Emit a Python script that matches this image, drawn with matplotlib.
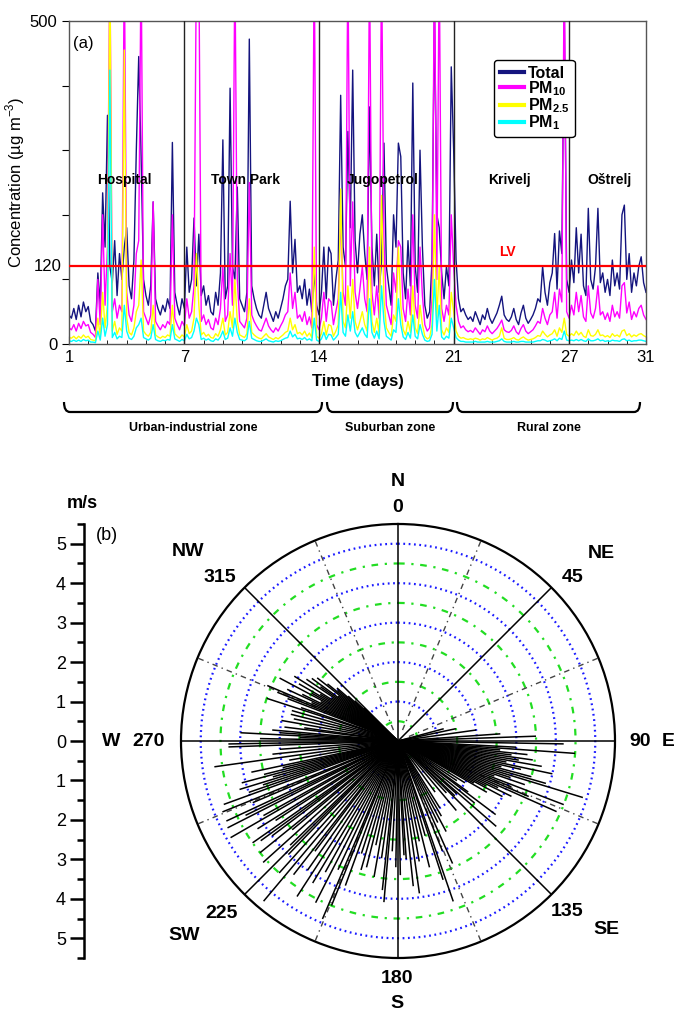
import numpy as np
import matplotlib
matplotlib.use('Agg')
import matplotlib.pyplot as plt
from matplotlib.path import Path
from matplotlib.patches import PathPatch

plt.rcParams['font.family'] = ['Liberation Sans', 'DejaVu Sans']
plt.rcParams['mathtext.fontset'] = 'custom'
plt.rcParams['mathtext.rm'] = 'Liberation Sans'
plt.rcParams['mathtext.bf'] = 'Liberation Sans:bold'

# ------------------------------------------------------------------ data
samples_per_day = 8   # concentration samples every 3 h, day 1 .. day 31

total = [
    45, 40, 55, 38, 60, 42, 65, 50,
    58, 35, 30, 20, 110, 60, 234, 150,
    354, 120, 95, 160, 75, 140, 100, 150,
    180, 90, 70, 130, 300, 445, 290, 100,
    75, 60, 90, 220, 70, 55, 45, 60,
    50, 70, 55, 312, 80, 60, 45, 70,
    55, 150, 80, 100, 195, 90, 170, 75,
    90, 60, 75, 50, 45, 80, 60, 110,
    316, 70, 90, 396, 120, 100, 243, 70,
    60, 50, 80, 472, 90, 70, 55, 45,
    40, 60, 80, 55, 45, 35, 50, 40,
    55, 70, 90, 100, 221, 110, 162, 80,
    90, 70, 100, 60, 85, 50, 110, 60,
    45, 80, 150, 70, 150, 140, 60, 100,
    130, 385, 150, 120, 329, 180, 424, 160,
    110, 170, 200, 140, 100, 367, 150, 90,
    170, 80, 130, 311, 120, 90, 60, 200,
    150, 311, 290, 110, 70, 160, 90, 404,
    120, 80, 300, 150, 60, 40, 50, 130,
    520, 200, 180, 110, 70, 120, 90, 429,
    300, 130, 70, 50, 55, 45, 38, 42,
    35, 50, 40, 30, 45, 38, 55, 40,
    32, 40, 48, 60, 74, 45, 38, 35,
    42, 55, 38, 30, 48, 60, 40, 32,
    38, 45, 55, 70, 65, 120, 80, 60,
    95, 110, 171, 85, 175, 140, 520, 100,
    80, 130, 95, 180, 110, 170, 90, 75,
    210, 100, 85, 120, 210, 95, 110, 80,
    100, 75, 130, 90, 110, 85, 200, 215,
    100, 140, 80, 110, 90, 120, 135, 95,
    80]

pm10 = [
    25, 22, 30, 20, 32, 24, 35, 28,
    30, 18, 15, 10, 100, 30, 200, 60,
    150, 600, 50, 70, 40, 60, 50, 600,
    80, 45, 35, 60, 140, 160, 600, 50,
    40, 30, 45, 220, 35, 28, 22, 30,
    25, 35, 30, 200, 40, 30, 22, 35,
    28, 70, 40, 50, 90, 600, 600, 35,
    45, 30, 38, 25, 22, 40, 30, 55,
    120, 35, 45, 140, 60, 600, 100, 35,
    30, 25, 40, 250, 45, 35, 28, 22,
    20, 30, 40, 28, 22, 18, 25, 20,
    28, 35, 45, 50, 110, 55, 80, 40,
    45, 35, 50, 30, 42, 25, 600, 30,
    22, 40, 80, 35, 70, 65, 30, 50,
    70, 200, 80, 60, 600, 90, 220, 80,
    55, 85, 120, 70, 50, 600, 80, 45,
    90, 40, 600, 160, 60, 45, 30, 110,
    80, 160, 150, 55, 35, 85, 45, 200,
    60, 40, 150, 75, 30, 20, 25, 70,
    600, 100, 600, 55, 35, 60, 45, 200,
    120, 60, 35, 25, 28, 22, 19, 21,
    18, 25, 20, 15, 22, 19, 28, 20,
    16, 20, 24, 30, 37, 22, 19, 18,
    21, 28, 19, 15, 24, 30, 20, 16,
    19, 22, 28, 35, 32, 55, 40, 30,
    45, 50, 80, 40, 85, 65, 600, 50,
    40, 60, 45, 80, 50, 75, 42, 35,
    90, 48, 40, 55, 90, 45, 50, 38,
    48, 35, 60, 42, 50, 40, 90, 95,
    48, 65, 38, 50, 42, 55, 60, 45,
    38]

pm25 = [
    10, 9, 12, 8, 12, 9, 14, 10,
    12, 7, 6, 5, 40, 12, 80, 25,
    60, 600, 20, 35, 15, 25, 20, 455,
    40, 18, 14, 25, 50, 60, 130, 20,
    15, 12, 18, 60, 14, 11, 9, 12,
    10, 14, 12, 60, 16, 12, 9, 14,
    11, 30, 16, 20, 40, 140, 60, 14,
    18, 12, 15, 10, 9, 16, 12, 22,
    40, 14, 18, 50, 25, 100, 35, 14,
    12, 10, 16, 70, 18, 14, 11, 9,
    8, 12, 16, 11, 9, 7, 10, 8,
    11, 14, 18, 20, 40, 22, 30, 16,
    18, 14, 20, 12, 17, 10, 150, 12,
    9, 16, 35, 14, 30, 28, 12, 20,
    30, 240, 35, 25, 90, 40, 100, 35,
    22, 35, 50, 30, 20, 150, 35, 18,
    40, 16, 230, 70, 25, 18, 12, 45,
    35, 150, 60, 22, 14, 35, 18, 90,
    25, 16, 60, 30, 12, 8, 10, 30,
    200, 40, 120, 22, 14, 25, 18, 80,
    50, 20, 12, 9, 10, 8, 7, 8,
    7, 9, 8, 6, 8, 7, 10, 8,
    6, 8, 9, 12, 25, 9, 7, 7,
    8, 10, 7, 6, 9, 11, 8, 6,
    7, 8, 10, 13, 12, 20, 15, 11,
    14, 16, 22, 12, 25, 18, 40, 15,
    12, 16, 13, 20, 14, 18, 12, 10,
    22, 13, 12, 15, 22, 13, 14, 11,
    13, 10, 16, 12, 14, 11, 20, 22,
    13, 16, 11, 14, 12, 15, 16, 13,
    11]

pm1 = [
    5, 4, 6, 4, 6, 4, 7, 5,
    6, 3, 3, 2, 20, 6, 40, 12,
    30, 424, 10, 18, 8, 12, 10, 60,
    20, 9, 7, 12, 25, 30, 40, 10,
    8, 6, 9, 30, 7, 5, 4, 6,
    5, 7, 6, 30, 8, 6, 4, 7,
    5, 15, 8, 10, 20, 40, 30, 7,
    9, 6, 8, 5, 4, 8, 6, 11,
    20, 7, 9, 25, 12, 40, 18, 7,
    6, 5, 8, 35, 9, 7, 5, 4,
    4, 6, 8, 5, 4, 3, 5, 4,
    5, 7, 9, 10, 20, 11, 15, 8,
    9, 7, 10, 6, 8, 5, 40, 6,
    4, 8, 18, 7, 15, 14, 6, 10,
    15, 80, 18, 12, 45, 20, 50, 18,
    11, 18, 25, 15, 10, 70, 18, 9,
    20, 8, 90, 35, 12, 9, 6, 22,
    18, 70, 30, 11, 7, 18, 9, 45,
    12, 8, 30, 15, 6, 4, 5, 15,
    100, 20, 60, 11, 7, 12, 9, 40,
    25, 10, 6, 4, 4, 3, 3, 3,
    3, 4, 3, 3, 3, 3, 4, 3,
    3, 3, 4, 5, 8, 4, 3, 3,
    3, 4, 3, 3, 4, 4, 3, 3,
    3, 3, 4, 5, 5, 7, 6, 4,
    5, 6, 8, 5, 9, 7, 20, 6,
    5, 6, 5, 7, 5, 7, 5, 4,
    8, 5, 5, 6, 8, 5, 6, 4,
    5, 4, 6, 5, 5, 4, 7, 8,
    5, 6, 4, 5, 5, 6, 6, 5,
    4]

series_names = ['Total', 'PM$_\\mathbf{10}$', 'PM$_\\mathbf{2.5}$', 'PM$_\\mathbf{1}$']
series_colors = ['#14147e', '#ff00ff', '#ffff00', '#00ffff']

day_ticks = [1, 7, 14, 21, 27, 31]
site_change_days = [7, 14, 21, 27]
site_names = ['Hospital', 'Town Park', 'Jugopetrol', 'Krivelj', 'Oštrelj']
site_text_days = [3.9, 10.2, 17.3, 23.9, 29.1]
limit_value = 120
zone_names = ['Urban-industrial zone', 'Suburban zone', 'Rural zone']

# wind: direction (deg, clockwise from N) and speed (m/s) of each record
wind_dir = [
    286, 288, 289, 291, 292, 293, 294, 295, 296, 297, 298, 299, 300, 301,
    302, 303, 304, 305, 306, 307, 308, 309, 310, 311, 312, 313, 314,
    264, 266, 268, 269, 271, 272, 273, 274, 275, 277, 278, 280, 282, 284,
    250, 251, 252, 253, 254, 255, 256, 257, 258, 260, 262,
    220, 222, 224, 226, 228, 230, 231, 233, 234, 235, 237, 238, 240, 241,
    243, 244, 245, 247, 248,
    196, 198, 200, 202, 203, 205, 207, 209, 211, 213, 215, 217, 218,
    166, 168, 170, 172, 174, 176, 177, 179, 181, 183, 185, 186, 188, 190,
    192, 194,
    148, 150, 152, 154, 156, 158, 161, 162, 164,
    126, 127, 129, 131, 132, 134, 137, 140, 144,
    93, 94, 95, 96, 97, 98, 99, 100, 101, 102, 103, 104, 105, 106, 107,
    108, 109, 110, 111, 112, 113, 114, 115, 116, 117, 118, 119, 120, 122, 124,
    75, 78, 82, 86, 88, 91]
wind_speed = [
    2.8, 3.5, 2.6, 3.0, 3.3, 3.6, 2.4, 3.1, 2.7, 2.2, 3.4, 2.5, 2.9, 2.3,
    3.1, 2.0, 2.8, 2.4, 2.7, 1.9, 2.6, 2.3, 2.0, 2.05, 1.7, 1.5, 1.2,
    3.2, 3.0, 4.3, 4.3, 3.5, 2.5, 4.0, 3.0, 3.2, 2.9, 2.4, 3.0, 2.7, 2.8,
    4.7, 4.0, 3.6, 4.2, 3.3, 4.1, 3.5, 3.0, 3.8, 2.8, 4.7,
    5.3, 4.5, 4.0, 3.8, 4.6, 3.5, 4.5, 4.0, 4.3, 4.5, 3.7, 4.2, 4.9, 3.9,
    4.85, 4.3, 4.8, 4.0, 4.8,
    3.4, 3.0, 3.9, 4.5, 4.9, 3.6, 4.6, 3.8, 4.2, 4.7, 4.0, 3.5, 4.3,
    3.3, 2.6, 3.1, 3.9, 3.7, 3.0, 2.9, 3.4, 3.2, 2.8, 4.1, 3.8, 3.0, 3.5,
    2.7, 3.3,
    2.0, 2.2, 2.6, 2.3, 3.4, 3.0, 4.3, 3.7, 2.5,
    2.2, 3.1, 2.5, 3.3, 2.0, 2.0, 1.8, 2.3, 1.6,
    3.0, 4.5, 2.6, 3.3, 2.9, 3.45, 3.1, 3.7, 2.8, 4.0, 3.2, 2.7, 3.5, 3.9, 4.9,
    3.0, 3.4, 2.6, 4.5, 3.1, 3.6, 4.4, 2.8, 3.2, 2.5, 3.0, 2.2, 2.6, 2.0, 1.8,
    1.2, 1.5, 2.0, 2.6, 3.5, 4.2]

compass_angles = [0, 45, 90, 135, 180, 225, 270, 315]
speed_max = 5.5

# ------------------------------------------------------------------ figure
W, H = 674, 1013
def fx(px):
    return px / W
def fy(py):
    return 1 - py / H

fig = plt.figure(figsize=(W / 100, H / 100), dpi=100)

# ---------------- panel (a)
ax = fig.add_axes([fx(69), fy(344), fx(646) - fx(69), fy(21) - fy(344)])
days = np.linspace(1, 31, len(total))
for vals, col, name in zip([total, pm10, pm25, pm1], series_colors, series_names):
    ax.plot(days, vals, color=col, lw=1.0, label=name, zorder=2)

for d in site_change_days:
    ax.axvline(d, color='#222222', lw=1.0, zorder=3)
ax.axhline(limit_value, color='#ff0000', lw=1.6, zorder=4)

ax.set_xlim(1, 31)
ax.set_ylim(0, 500)
ax.set_xticks(day_ticks)
ax.set_xticks(np.arange(1, 32), minor=True)
ax.tick_params(axis='x', which='both', direction='in', labelsize=12, pad=4)
ax.tick_params(axis='x', which='major', length=6)
ax.tick_params(axis='x', which='minor', length=3)
ax.set_yticks([0, 100, 200, 300, 400, 500])
ax.set_yticklabels(['0', '', '', '', '', '500'])
ax.tick_params(axis='y', direction='out', length=5, labelsize=12)
ax.text(-0.012, limit_value, str(limit_value), transform=ax.get_yaxis_transform(),
        ha='right', va='center', fontsize=12)
for sp in ax.spines.values():
    sp.set_color('#555555')
    sp.set_linewidth(1.0)

ax.set_xlabel('Time (days)', fontsize=12, fontweight='bold', labelpad=7)
ax.set_ylabel('Concentration (µg m$^{-3}$)', fontsize=12, labelpad=2)

for name, d in zip(site_names, site_text_days):
    ax.text(d, 254, name, ha='center', va='center', fontsize=10, fontweight='bold')
ax.text(23.8, 142, 'LV', color='#ff0000', ha='center', va='center',
        fontsize=10, fontweight='bold')
ax.text(1.2, 465, '(a)', ha='left', va='center', fontsize=12)

leg = ax.legend(loc='upper left', bbox_to_anchor=(fx(494), fy(60)),
                bbox_transform=fig.transFigure,
                prop={'weight': 'bold', 'size': 11.5}, frameon=True,
                fancybox=True, handlelength=1.5, handletextpad=0.25,
                labelspacing=-0.1, borderpad=0.35, borderaxespad=0)
leg.get_frame().set_edgecolor('black')
leg.get_frame().set_linewidth(1.0)
leg.get_frame().set_alpha(1)
for h in leg.get_lines():
    h.set_linewidth(3)

# zone braces under the time axis
def brace(x0, x1, ytop, ybot, r):
    verts = [(x0, ytop), (x0, ybot), (x0 + r, ybot), (x1 - r, ybot),
             (x1, ybot), (x1, ytop)]
    codes = [Path.MOVETO, Path.CURVE3, Path.CURVE3, Path.LINETO,
             Path.CURVE3, Path.CURVE3]
    verts = [(fx(a), fy(b)) for a, b in verts]
    return PathPatch(Path(verts, codes), transform=fig.transFigure,
                     fill=False, lw=1.6, color='black')

brace_px = [(64, 322), (327, 453), (457, 640)]
for (x0, x1), name in zip(brace_px, zone_names):
    fig.add_artist(brace(x0, x1, 402, 412, 6))
    fig.text(fx((x0 + x1) / 2), fy(428), name, ha='center', va='center',
             fontsize=9, fontweight='bold')

# ---------------- panel (b) : wind rose
cx, cy, rad = 398, 741, 217
pax = fig.add_axes([fx(cx - rad), fy(cy + rad), fx(2 * rad), (2 * rad) / H],
                   projection='polar')
pax.set_theta_zero_location('N')
pax.set_theta_direction(-1)
pax.set_ylim(0, speed_max)
pax.grid(False)
pax.set_xticks([])
pax.set_yticks([])
pax.spines['polar'].set_linewidth(1.6)
pax.spines['polar'].set_color('black')

th = np.linspace(0, 2 * np.pi, 721)
for r in [1, 2, 3, 4, 5]:
    pax.plot(th, np.full_like(th, r), color='#1a1aff', lw=1.6,
             ls=(0, (0.8, 1.6)), zorder=1)
for r in [0.5, 1.5, 2.5, 3.5, 4.5]:
    pax.plot(th, np.full_like(th, r), color='#22dd22', lw=1.6,
             ls=(0, (3, 3, 1, 3)), zorder=1)
for a in compass_angles:
    pax.plot([np.deg2rad(a)] * 2, [0, speed_max], color='black', lw=1.1, zorder=3)
for a in np.array(compass_angles) + 22.5:
    pax.plot([np.deg2rad(a)] * 2, [0.3, speed_max], color='#444444', lw=1.0,
             ls=(0, (4, 3, 1, 3)), zorder=1)

pax.vlines(np.deg2rad(wind_dir), 0, wind_speed, colors='black', lw=1.1, zorder=2)

# compass labels
lab = dict(fontsize=14, fontweight='bold', ha='center', va='center')
fig.text(fx(398), fy(482), 'N', **lab)
fig.text(fx(398), fy(507), '0', **lab)
fig.text(fx(601), fy(553), 'NE', **lab)
fig.text(fx(573), fy(577), '45', **lab)
fig.text(fx(640), fy(742), '90', **lab)
fig.text(fx(668), fy(742), 'E', **lab)
fig.text(fx(567), fy(911), '135', **lab)
fig.text(fx(606), fy(929), 'SE', **lab)
fig.text(fx(397), fy(978), '180', **lab)
fig.text(fx(397), fy(1003), 'S', **lab)
fig.text(fx(222), fy(913), '225', **lab)
fig.text(fx(184), fy(935), 'SW', **lab)
fig.text(fx(111), fy(742), 'W', **lab)
fig.text(fx(149), fy(742), '270', **lab)
fig.text(fx(188), fy(552), 'NW', **lab)
fig.text(fx(220), fy(577), '315', **lab)

# speed scale
sax = fig.add_axes([fx(84), fy(cy + rad), 0.001, (2 * rad) / H])
sax.set_ylim(-speed_max, speed_max)
sax.set_xticks([])
for s in ['top', 'right', 'bottom']:
    sax.spines[s].set_visible(False)
sax.spines['left'].set_linewidth(1.8)
ticks = np.arange(-5, 6)
sax.set_yticks(ticks)
sax.set_yticklabels([str(abs(t)) for t in ticks])
sax.set_yticks(np.arange(-5.5, 5.6, 1.0), minor=True)
sax.tick_params(axis='y', which='major', length=10, width=1.8, labelsize=13, pad=3)
sax.tick_params(axis='y', which='minor', length=5, width=1.8)
fig.text(fx(82), fy(503), 'm/s', fontsize=13, fontweight='bold', ha='center', va='center')
fig.text(fx(96), fy(535), '(b)', fontsize=13, ha='left', va='center')

fig.savefig('out.png', dpi=100)
